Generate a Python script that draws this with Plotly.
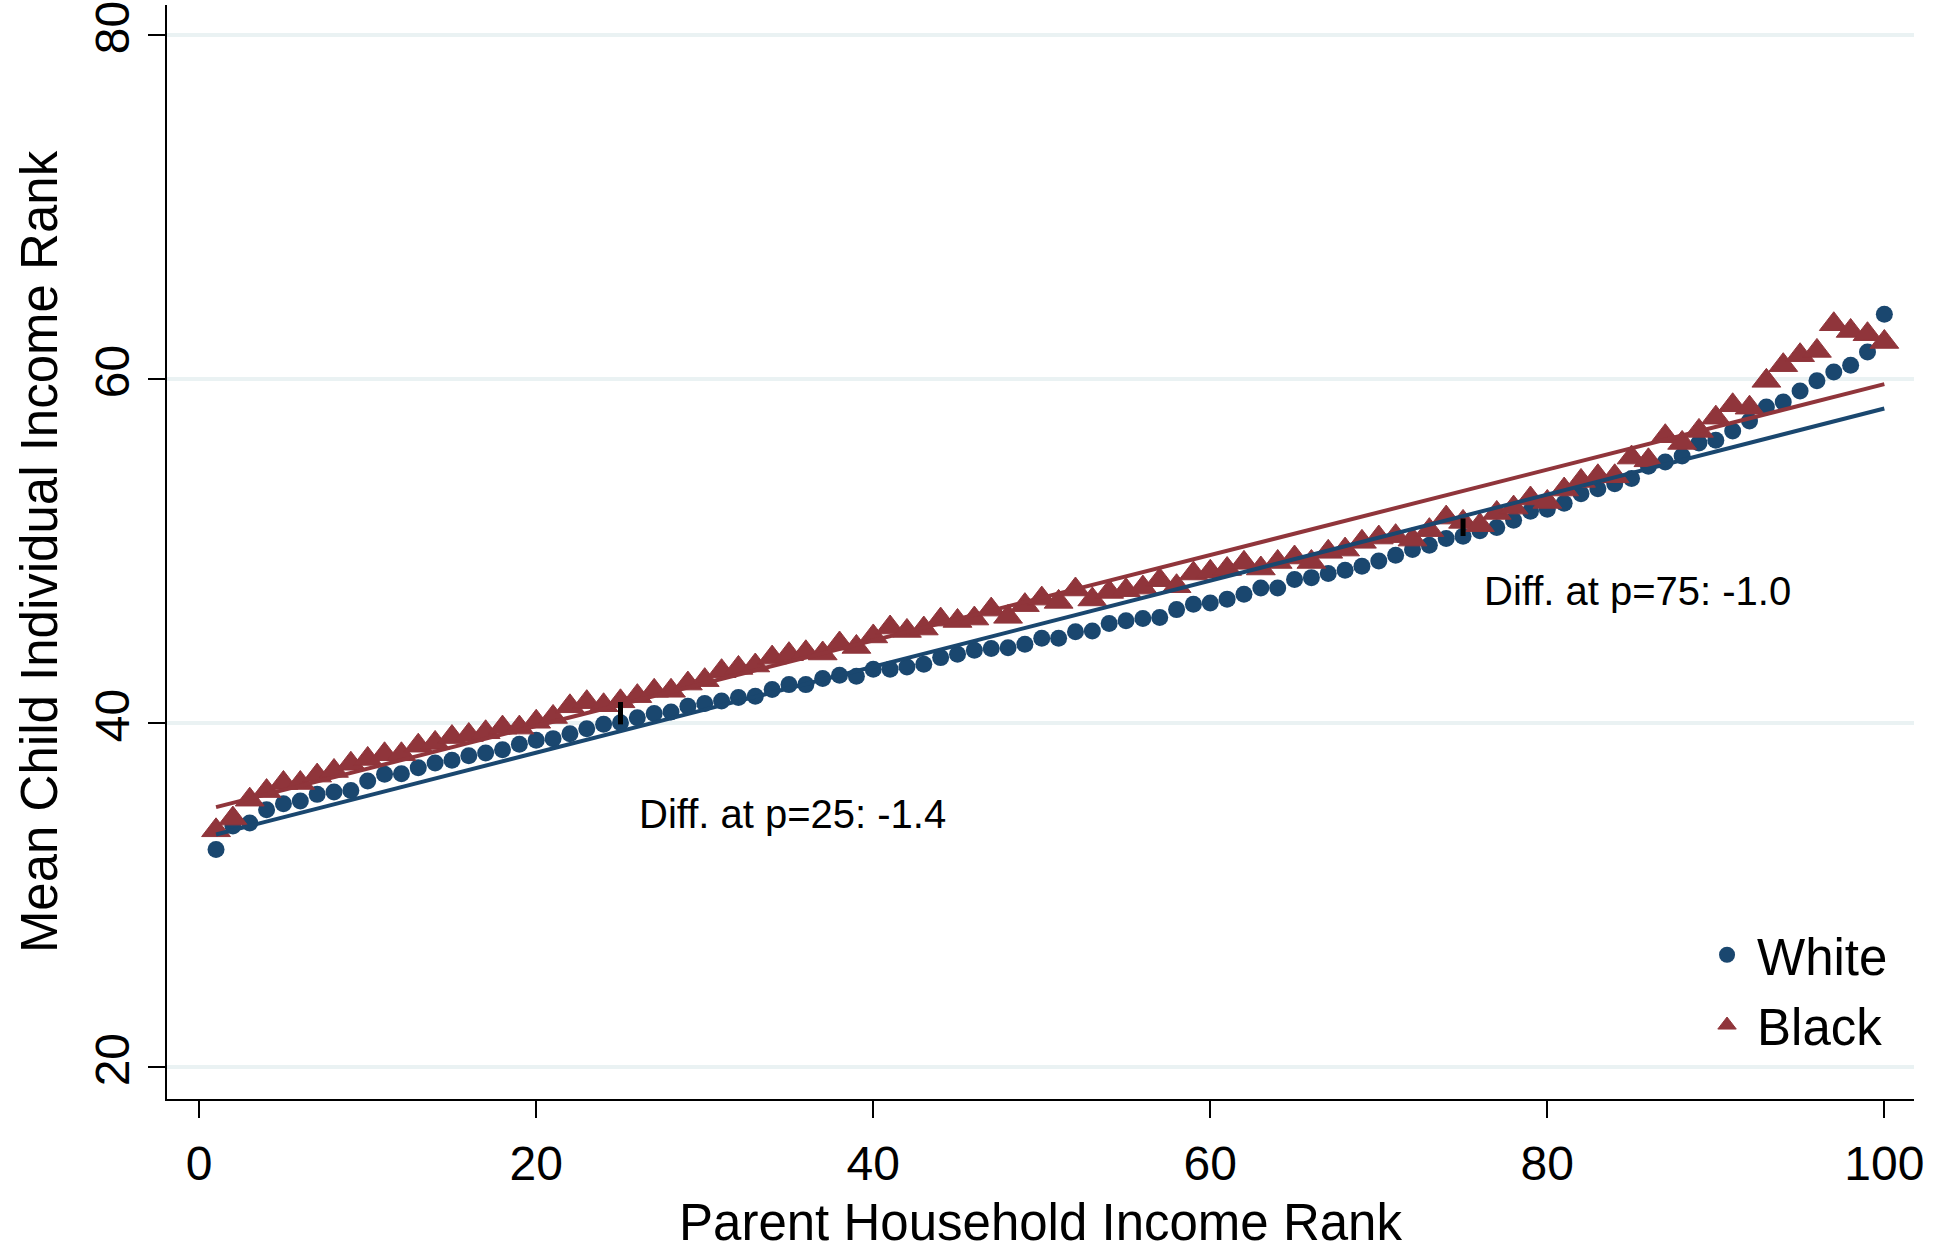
import plotly.graph_objects as go

# ---- data ----
parent_rank = list(range(1, 101))

white_rank = [
    32.63, 34.00, 34.17, 34.95, 35.30, 35.45, 35.84, 35.98, 36.07, 36.62,
    37.01, 37.04, 37.39, 37.66, 37.82, 38.09, 38.24, 38.44, 38.75, 38.98,
    39.08, 39.37, 39.66, 39.92, 40.00, 40.29, 40.54, 40.63, 40.96, 41.12,
    41.27, 41.47, 41.55, 41.93, 42.22, 42.22, 42.57, 42.77, 42.71, 43.11,
    43.12, 43.25, 43.41, 43.79, 43.99, 44.22, 44.32, 44.37, 44.57, 44.92,
    44.92, 45.29, 45.34, 45.77, 45.93, 46.06, 46.12, 46.58, 46.89, 46.97,
    47.19, 47.47, 47.84, 47.84, 48.33, 48.44, 48.68, 48.87, 49.10, 49.41,
    49.74, 50.07, 50.32, 50.71, 50.85, 51.16, 51.35, 51.78, 52.30, 52.42,
    52.77, 53.32, 53.61, 53.90, 54.20, 54.91, 55.16, 55.51, 56.27, 56.42,
    56.97, 57.55, 58.36, 58.65, 59.29, 59.88, 60.40, 60.79, 61.56, 63.75,
]

black_rank = [
    33.75, 34.43, 35.53, 36.03, 36.50, 36.50, 36.93, 37.20, 37.62, 37.90,
    38.17, 38.17, 38.67, 38.83, 39.17, 39.29, 39.45, 39.72, 39.72, 40.06,
    40.34, 40.96, 41.20, 41.02, 41.25, 41.55, 41.86, 41.86, 42.28, 42.48,
    43.00, 43.19, 43.33, 43.79, 43.99, 44.10, 44.03, 44.61, 44.41, 45.02,
    45.54, 45.34, 45.48, 46.00, 45.92, 46.06, 46.58, 46.16, 46.84, 47.22,
    47.03, 47.75, 47.17, 47.61, 47.71, 47.86, 48.29, 47.94, 48.68, 48.78,
    48.94, 49.30, 48.97, 49.35, 49.61, 49.35, 49.94, 50.07, 50.52, 50.77,
    50.85, 50.65, 51.20, 51.93, 51.68, 51.49, 52.20, 52.51, 53.04, 52.84,
    53.56, 54.06, 54.33, 54.33, 55.42, 55.26, 56.66, 56.27, 56.97, 57.74,
    58.46, 58.32, 59.88, 60.79, 61.37, 61.62, 63.17, 62.78, 62.59, 62.14,
]

fit_x = [1, 100]
fit_white = [33.51, 58.27]
fit_black = [35.10, 59.69]

diff_p = [25, 75]
diff_lo = [39.91, 50.86]
diff_hi = [41.21, 51.88]
diff_labels = ["Diff. at p=25: -1.4", "Diff. at p=75: -1.0"]
label_x = [26.0, 76.1]
label_y = [34.7, 47.66]

x_ticks = [0, 20, 40, 60, 80, 100]
y_ticks = [20, 40, 60, 80]

NAVY = "#1a476f"
MAROON = "#90353b"
GRID = "#eaf2f3"
FONT = "Liberation Sans, Arial, Helvetica, sans-serif"

fig = go.Figure()

fig.add_trace(go.Scatter(
    x=parent_rank, y=white_rank, mode="markers", name="White", legendgroup="w",
    marker=dict(symbol="circle", size=17, color=NAVY, line=dict(width=0)),
))
fig.add_trace(go.Scatter(
    x=parent_rank, y=black_rank, mode="markers", name="Black", legendgroup="b",
    marker=dict(symbol="triangle-up", size=25, color=MAROON,
                line=dict(width=1, color=MAROON)),
))
fig.add_trace(go.Scatter(
    x=fit_x, y=fit_white, mode="lines", showlegend=False,
    line=dict(color=NAVY, width=4),
))
fig.add_trace(go.Scatter(
    x=fit_x, y=fit_black, mode="lines", showlegend=False,
    line=dict(color=MAROON, width=4),
))

bx, by = [], []
for p, lo, hi in zip(diff_p, diff_lo, diff_hi):
    bx += [p, p, None]
    by += [lo, hi, None]
fig.add_trace(go.Scatter(
    x=bx, y=by, mode="lines", showlegend=False,
    line=dict(color="black", width=5),
))

for tx, ty, txt in zip(label_x, label_y, diff_labels):
    fig.add_annotation(
        x=tx, y=ty, text=txt, showarrow=False, xanchor="left", yanchor="middle",
        font=dict(family=FONT, size=40, color="black"),
    )

fig.update_layout(
    width=1942, height=1251,
    margin=dict(l=167, r=28, t=5, b=152),
    paper_bgcolor="white", plot_bgcolor="white",
    font=dict(family=FONT, color="black"),
    showlegend=True,
    legend=dict(
        x=0.988, xanchor="right", y=0.031, yanchor="bottom",
        bgcolor="rgba(0,0,0,0)", font=dict(family=FONT, size=51, color="black"),
        itemsizing="trace", itemwidth=50, tracegroupgap=1,
    ),
    xaxis=dict(
        range=[-1.91, 101.76], tickvals=x_ticks, showgrid=False, zeroline=False,
        showline=True, linecolor="black", linewidth=2, automargin=False,
        ticks="outside", ticklen=17, tickwidth=2, tickcolor="black",
        ticklabelstandoff=4,
        tickfont=dict(family=FONT, size=48),
        title=dict(text="Parent Household Income Rank", font=dict(family=FONT, size=51), standoff=26),
    ),
    yaxis=dict(
        range=[18.13, 81.73], tickvals=y_ticks, showgrid=True, gridcolor=GRID, gridwidth=4,
        zeroline=False, showline=True, linecolor="black", linewidth=2, automargin=False,
        ticks="outside", ticklen=17, tickwidth=2, tickcolor="black",
        tickangle=-90, tickfont=dict(family=FONT, size=48), ticklabeloverflow="allow",
        title=dict(text="Mean Child Individual Income Rank", font=dict(family=FONT, size=51), standoff=12),
    ),
)

fig.write_html(
    "out.html",
    config={"displayModeBar": False, "staticPlot": True},
    post_script="document.body.style.margin='0px';",
)
